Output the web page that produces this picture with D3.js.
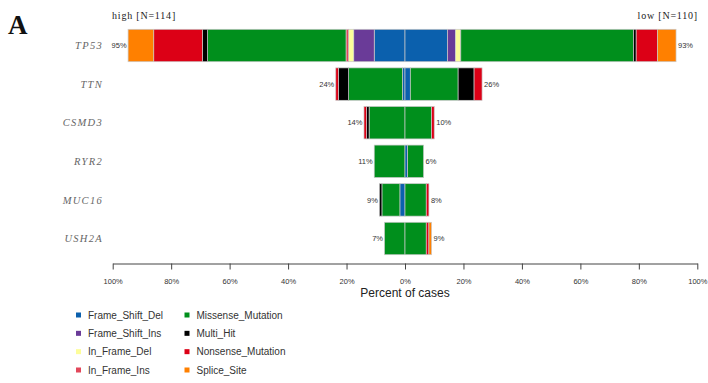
<!DOCTYPE html>
<html>
<head>
<meta charset="utf-8">
<script src="https://cdn.jsdelivr.net/npm/d3@7"></script>
<style>
  html, body { margin: 0; padding: 0; background: #fff; }
  svg { display: block; }
</style>
</head>
<body>
<svg id="chart" width="708" height="383"></svg>
<script>
// Genes (top to bottom) and mutation classes (stacked from the centre outward)
const genes = ["TP53", "TTN", "CSMD3", "RYR2", "MUC16", "USH2A"];
const classes = ["Frame_Shift_Del", "Frame_Shift_Ins", "In_Frame_Del", "In_Frame_Ins",
                 "Missense_Mutation", "Multi_Hit", "Nonsense_Mutation", "Splice_Site"];

// Cohort sizes
const highN = 114;
const lowN = 110;

// Mutated samples per class, one row per gene (same order as classes)
const highCounts = [
  [12, 8, 2, 1, 54, 2, 19, 10],   // TP53
  [1, 0, 0, 0, 21, 4, 1, 0],      // TTN
  [0, 0, 0, 0, 14, 1, 1, 0],      // CSMD3
  [0, 0, 0, 0, 12, 0, 0, 0],      // RYR2
  [2, 0, 0, 0, 7, 1, 0, 0],       // MUC16
  [0, 0, 0, 0, 8, 0, 0, 0]        // USH2A
];
const lowCounts = [
  [16, 3, 2, 0, 65, 1, 8, 7],     // TP53
  [2, 0, 0, 0, 18, 6, 3, 0],      // TTN
  [0, 0, 0, 0, 10, 0, 1, 0],      // CSMD3
  [1, 0, 0, 0, 6, 0, 0, 0],       // RYR2
  [0, 0, 0, 0, 8, 0, 1, 0],       // MUC16
  [0, 0, 0, 0, 8, 0, 1, 1]        // USH2A
];

// Axis ticks (signed: negative = high group on the left)
const tickValues = [-100, -80, -60, -40, -20, 0, 20, 40, 60, 80, 100];

// Class colours
const palette = ["#0b60ad", "#6a3b98", "#fdfd9a", "#e2475a",
                 "#008f1c", "#000000", "#dc0016", "#ff8000"];

const svg = d3.select("#chart");
const color = d3.scaleOrdinal().domain(classes).range(palette);

const x = d3.scaleLinear().domain([-100, 100]).range([112.7, 697.3]);
const y = d3.scaleBand().domain(genes).range([26.2, 257.8])
  .paddingInner(0.16).paddingOuter(0.08);

// Panel letter
svg.append("text")
  .attr("x", 8).attr("y", 33.5)
  .attr("font-family", "Liberation Serif, Times New Roman, serif")
  .attr("font-weight", "bold")
  .attr("font-size", 27)
  .attr("fill", "#111")
  .text("A");

// Group headers
svg.append("text")
  .attr("x", 112).attr("y", 18.5)
  .attr("font-family", "Liberation Serif, serif")
  .attr("font-size", 10).attr("letter-spacing", 0.8)
  .attr("fill", "#222")
  .text(`high [N=${highN}]`);
svg.append("text")
  .attr("x", 698).attr("y", 18.5)
  .attr("text-anchor", "end")
  .attr("font-family", "Liberation Serif, serif")
  .attr("font-size", 10).attr("letter-spacing", 0.8)
  .attr("fill", "#222")
  .text(`low [N=${lowN}]`);

// Build stacked segments for one side
function segments(counts, n, sign) {
  let acc = 0;
  return counts.map((c, i) => {
    const pct = c / n * 100;
    const seg = { cls: classes[i], x0: acc, x1: acc + pct, sign };
    acc += pct;
    return seg;
  }).filter(s => s.x1 > s.x0);
}

const rows = svg.append("g").attr("class", "rows");

genes.forEach((g, gi) => {
  const row = rows.append("g").attr("transform", `translate(0,${y(g)})`);
  const h = y.bandwidth();

  const segs = segments(highCounts[gi], highN, -1)
    .concat(segments(lowCounts[gi], lowN, 1));

  row.selectAll("rect")
    .data(segs)
    .join("rect")
    .attr("x", d => d.sign < 0 ? x(-d.x1) : x(d.x0))
    .attr("width", d => Math.abs(x(d.x1) - x(d.x0)))
    .attr("y", 0)
    .attr("height", h)
    .attr("fill", d => color(d.cls))
    .attr("stroke", "#c9c9c9")
    .attr("stroke-width", 0.7);

  const highTotal = d3.sum(highCounts[gi]) / highN * 100;
  const lowTotal = d3.sum(lowCounts[gi]) / lowN * 100;

  // Percent labels at each bar end
  row.append("text")
    .attr("x", x(-highTotal) - 1.5).attr("y", h / 2)
    .attr("dy", "0.35em").attr("text-anchor", "end")
    .attr("font-family", "Liberation Sans, Arial, sans-serif")
    .attr("font-size", 7.5).attr("fill", "#333")
    .text(Math.round(highTotal) + "%");
  row.append("text")
    .attr("x", x(lowTotal) + 2).attr("y", h / 2)
    .attr("dy", "0.35em").attr("text-anchor", "start")
    .attr("font-family", "Liberation Sans, Arial, sans-serif")
    .attr("font-size", 7.5).attr("fill", "#333")
    .text(Math.round(lowTotal) + "%");

  // Gene name
  row.append("text")
    .attr("x", 103).attr("y", h / 2)
    .attr("dy", "0.35em").attr("text-anchor", "end")
    .attr("font-family", "Liberation Serif, Times New Roman, serif")
    .attr("font-style", "italic")
    .attr("font-size", 10.5).attr("letter-spacing", 1.3)
    .attr("fill", "#666")
    .text(g);
});

// Bottom axis
const axis = d3.axisBottom(x)
  .tickValues(tickValues)
  .tickSize(6)
  .tickSizeOuter(0)
  .tickPadding(9)
  .tickFormat(d => Math.abs(d) + "%");

const ax = svg.append("g")
  .attr("transform", "translate(0,263.5)")
  .call(axis);
ax.select(".domain").attr("stroke", "#444").attr("stroke-width", 1);
ax.selectAll(".tick line").attr("stroke", "#444").attr("stroke-width", 1);
ax.selectAll(".tick text")
  .attr("font-family", "Liberation Sans, Arial, sans-serif")
  .attr("font-size", 7.5).attr("fill", "#333");

svg.append("text")
  .attr("x", x(0)).attr("y", 296.7)
  .attr("text-anchor", "middle")
  .attr("font-family", "Liberation Sans, Arial, sans-serif")
  .attr("font-size", 12).attr("fill", "#222")
  .text("Percent of cases");

// Legend: two columns of four
const legend = svg.append("g").attr("class", "legend");
const legendRowY = d3.scalePoint().domain(d3.range(4)).range([315, 370]);
const legendColX = [76, 184.5];

classes.forEach((c, i) => {
  const col = Math.floor(i / 4), r = i % 4;
  const gEl = legend.append("g")
    .attr("transform", `translate(${legendColX[col]},${legendRowY(r)})`);
  gEl.append("rect")
    .attr("x", 0).attr("y", -2.5)
    .attr("width", 5).attr("height", 5)
    .attr("fill", color(c));
  gEl.append("text")
    .attr("x", 12).attr("y", 0).attr("dy", "0.35em")
    .attr("font-family", "Liberation Sans, Arial, sans-serif")
    .attr("font-size", 10).attr("fill", "#333")
    .text(c);
});
</script>
</body>
</html>
